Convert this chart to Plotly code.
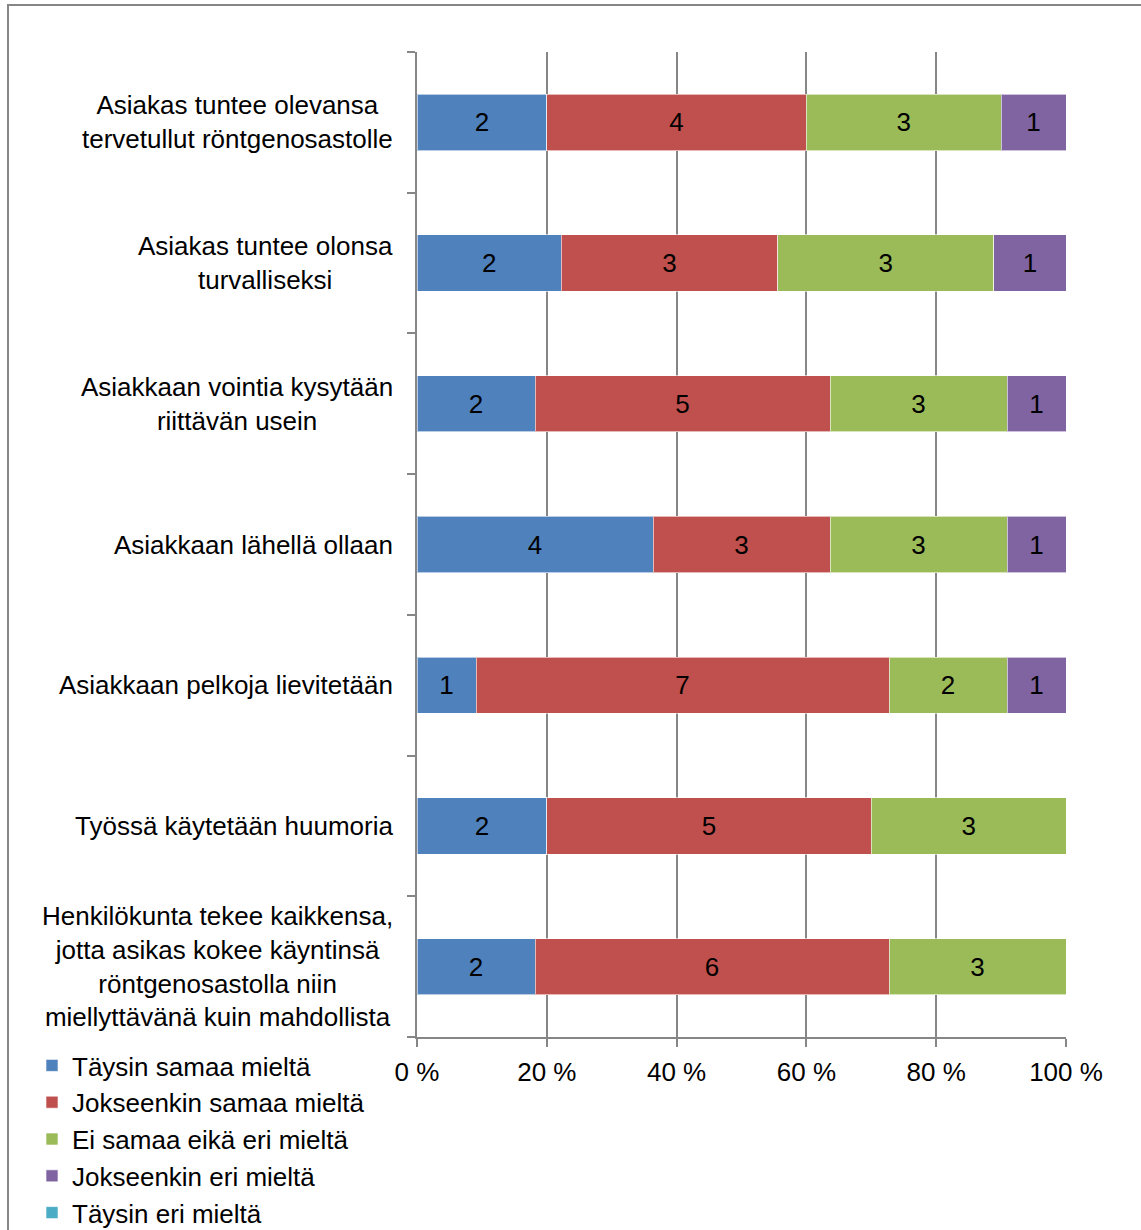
import plotly.graph_objects as go

# Survey statements (top to bottom)
categories = [
    "Asiakas tuntee olevansa<br>tervetullut röntgenosastolle",
    "Asiakas tuntee olonsa<br>turvalliseksi",
    "Asiakkaan vointia kysytään<br>riittävän usein",
    "Asiakkaan lähellä ollaan",
    "Asiakkaan pelkoja lievitetään",
    "Työssä käytetään huumoria",
    "Henkilökunta tekee kaikkensa,<br>jotta asikas kokee käyntinsä<br>röntgenosastolla niin<br>miellyttävänä kuin mahdollista",
]

# Answer counts per response option
taysin_samaa = [2, 2, 2, 4, 1, 2, 2]
jokseenkin_samaa = [4, 3, 5, 3, 7, 5, 6]
ei_samaa_eika_eri = [3, 3, 3, 3, 2, 3, 3]
jokseenkin_eri = [1, 1, 1, 1, 1, 0, 0]
taysin_eri = [0, 0, 0, 0, 0, 0, 0]

series_names = [
    "Täysin samaa mieltä",
    "Jokseenkin samaa mieltä",
    "Ei samaa eikä eri mieltä",
    "Jokseenkin eri mieltä",
    "Täysin eri mieltä",
]
series_values = [taysin_samaa, jokseenkin_samaa, ei_samaa_eika_eri, jokseenkin_eri, taysin_eri]
series_colors = ["#4F81BD", "#C0504D", "#9BBB59", "#8064A2", "#4BACC6"]

x_ticks = [0, 20, 40, 60, 80, 100]
x_tick_labels = ["0 %", "20 %", "40 %", "60 %", "80 %", "100 %"]

FONT = "Liberation Sans, Arial, sans-serif"
GRAY = "#868686"
W, H = 1141, 1230
L, R, T, B = 417, 75, 52, 193
PW, PH = W - L - R, H - T - B

fig = go.Figure()
for name, vals, color in zip(series_names, series_values, series_colors):
    fig.add_trace(go.Bar(
        name=name,
        y=categories,
        x=vals,
        orientation="h",
        marker=dict(color=color, line=dict(color="rgba(255,255,255,0.6)", width=1)),
        text=[str(v) if v else "" for v in vals],
        textposition="inside",
        insidetextanchor="middle",
        textangle=0,
        textfont=dict(family=FONT, size=26, color="black"),
        hoverinfo="skip",
    ))


def px_x(p):
    return (p - L) / PW


def px_y(p):
    return (H - B - p) / PH


# Category labels: centred lines, right edge just left of the axis ticks
label_annotations = [
    dict(
        text=c,
        xref="paper", yref="y",
        x=px_x(395), y=c,
        xanchor="right", yanchor="middle",
        align="center",
        showarrow=False,
        font=dict(family=FONT, size=26, color="black"),
    )
    for c in categories
]

fig.update_layout(
    width=W,
    height=H,
    barmode="stack",
    barnorm="percent",
    bargap=0.6,
    plot_bgcolor="white",
    paper_bgcolor="white",
    font=dict(family=FONT, size=26, color="black"),
    margin=dict(l=L, r=R, t=T, b=B, autoexpand=False),
    uniformtext=dict(minsize=26, mode="show"),
    xaxis=dict(
        range=[0, 100],
        tickmode="array",
        tickvals=x_ticks,
        ticktext=x_tick_labels,
        showgrid=True,
        gridcolor=GRAY,
        gridwidth=2,
        showline=True,
        linecolor=GRAY,
        linewidth=2,
        ticks="outside",
        ticklen=8,
        tickwidth=2,
        tickcolor=GRAY,
        zeroline=False,
        ticklabelstandoff=3,
        tickfont=dict(family=FONT, size=26, color="black"),
    ),
    yaxis=dict(
        categoryorder="array",
        categoryarray=categories[::-1],
        showgrid=False,
        showline=True,
        linecolor=GRAY,
        linewidth=2,
        ticks="outside",
        tickson="boundaries",
        ticklen=8,
        tickwidth=2,
        tickcolor=GRAY,
        showticklabels=False,
    ),
    legend=dict(
        orientation="v",
        traceorder="normal",
        x=px_x(32),
        xanchor="left",
        y=px_y(1042),
        yanchor="top",
        font=dict(family=FONT, size=26, color="black"),
        bgcolor="rgba(0,0,0,0)",
    ),
    annotations=label_annotations,
    shapes=[
        dict(
            type="rect",
            xref="paper", yref="paper",
            x0=px_x(8), x1=px_x(1160),
            y0=px_y(1250), y1=px_y(5),
            line=dict(color=GRAY, width=2),
            fillcolor="rgba(0,0,0,0)",
            layer="below",
        )
    ],
)

fig.write_html("out.html")
